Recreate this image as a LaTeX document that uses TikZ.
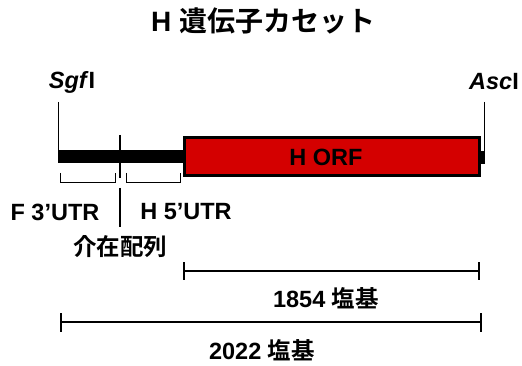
\documentclass[tikz,border=0pt]{standalone}
\usepackage{fontspec}
\setmainfont{Liberation Sans}
\newfontfamily\jp{Noto Sans CJK JP}[BoldFont=* Bold]
\definecolor{orfred}{RGB}{212,0,0}
\begin{document}
\begin{tikzpicture}[x=1pt,y=-1pt,
  lbl/.style={font=\bfseries\fontsize{23.5}{26}\selectfont,inner sep=0pt},
  thin/.style={line width=1pt},
  dim/.style={line width=2.2pt}]
  \useasboundingbox (0,0) rectangle (522,366);
  \pgfmathsetmacro{\ya}{157}
  % title
  \node[lbl,font=\bfseries\fontsize{28}{30}\selectfont] (title) at (263,21) {H {\jp 遺伝子カセット}};
  % cassette
  \coordinate (sgf) at (58,\ya);
  \coordinate (orfL) at (184.5,\ya);
  \coordinate (orfR) at (479,\ya);
  \coordinate (asc) at (485,\ya);
  \draw[line width=13pt] (sgf) -- (orfL);
  \fill (479,151) rectangle (485,164);
  \draw[line width=3pt,fill=orfred] (184.5,137.5) rectangle (479,176);
  \node[lbl] (orf) at (326,\ya) {H ORF};
  \draw[line width=2.5pt] (120,135) -- (120,178);
  % sites
  \node[lbl] (sgflbl) at (72,82) {\textit{Sgf}I};
  \node[lbl] (asclbl) at (494,82) {\textit{Asc}I};
  \draw[thin] (58,102) -- (58,151);
  \draw[thin] (484,102) -- (484,152);
  % UTR brackets
  \draw[thin] (60,173) -- (60,183) -- (115,183) -- (115,173);
  \draw[thin] (126,173) -- (126,183) -- (180,183) -- (180,173);
  \draw[thin,line width=1.2pt] (120,188) -- (120,227);
  \node[lbl] (futr) at (55,212) {F 3’UTR};
  \node[lbl] (hutr) at (186,212) {H 5’UTR};
  \node[lbl] (intr) at (120,247) {\jp 介在配列};
  % lengths
  \coordinate (a1) at (184,271);
  \coordinate (a2) at (479,271);
  \draw[dim] (a1) -- (a2);
  \draw[dim] (184,262) -- (184,280);
  \draw[dim] (479,262) -- (479,280);
  \node[lbl] (orflen) at (326,298) {1854 {\jp 塩基}};
  \coordinate (b1) at (61,322);
  \coordinate (b2) at (481,322);
  \draw[dim] (b1) -- (b2);
  \draw[dim] (61,313) -- (61,332);
  \draw[dim] (481,313) -- (481,332);
  \node[lbl] (totlen) at (262,350) {2022 {\jp 塩基}};
\end{tikzpicture}
\end{document}
